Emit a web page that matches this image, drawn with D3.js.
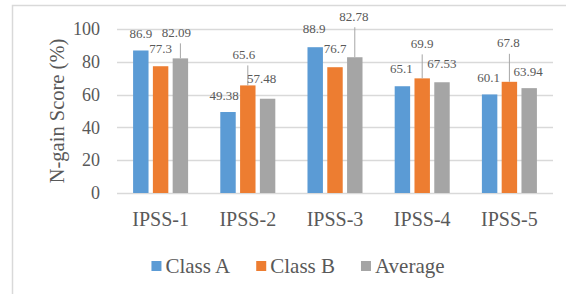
<!DOCTYPE html>
<html>
<head>
<meta charset="utf-8">
<script src="https://cdn.jsdelivr.net/npm/d3@7"></script>
<style>
  body { margin: 0; background: #fff; }
  svg { display: block; font-family: "Liberation Serif", serif; }
</style>
</head>
<body>
<div id="chart"></div>
<script>
const categories = ["IPSS-1", "IPSS-2", "IPSS-3", "IPSS-4", "IPSS-5"];
const seriesNames = ["Class A", "Class B", "Average"];
const classA = [86.9, 49.38, 88.9, 65.1, 60.1];
const classB = [77.3, 65.6, 76.7, 69.9, 67.8];
const average = [82.09, 57.48, 82.78, 67.53, 63.94];
const yTicks = [0, 20, 40, 60, 80, 100];

// hand placed data labels: [dx, dy from bar top, leader line?]
const labelNudgeA = [[0, -17], [-4, -17], [-1, -19], [-1, -18], [-1, -17]];
const labelNudgeB = [[0, -18], [-4, -31, 1], [0, -19], [0, -35, 1], [-1, -39, 1]];
const labelNudgeAvg = [[-4, -26, 1], [-6, -20], [-1, -41, 1], [0, -19], [-1, -17]];

const colors = ["#5b9bd5", "#ed7d31", "#a5a5a5"];
const seriesValues = [classA, classB, average];
const nudges = [labelNudgeA, labelNudgeB, labelNudgeAvg];

const W = 566, H = 294;
const plot = { left: 117, right: 553, top: 29, bottom: 193 };

const svg = d3.select("#chart").append("svg")
    .attr("width", W)
    .attr("height", H);

// outer frame
svg.append("rect")
    .attr("x", 12.5).attr("y", 5.5)
    .attr("width", W + 20).attr("height", H + 20)
    .attr("fill", "none")
    .attr("stroke", "#d9d9d9")
    .attr("stroke-width", 1.5);

const x0 = d3.scaleBand()
    .domain(categories)
    .range([plot.left, plot.right])
    .paddingInner(0.369)
    .paddingOuter(0.1845);

const x1 = d3.scaleBand()
    .domain(seriesNames)
    .range([0, x0.bandwidth()])
    .paddingInner(0.22);

const y = d3.scaleLinear()
    .domain([0, 100])
    .range([plot.bottom, plot.top]);

// gridlines
svg.append("g")
    .selectAll("line")
    .data(yTicks)
    .enter()
    .append("line")
    .attr("x1", plot.left)
    .attr("x2", plot.right)
    .attr("y1", d => Math.round(y(d)) + 0.5)
    .attr("y2", d => Math.round(y(d)) + 0.5)
    .attr("stroke", "#d9d9d9")
    .attr("stroke-width", 1.3);

// y tick labels
const yAxis = svg.append("g")
    .attr("transform", "translate(" + plot.left + ",0)")
    .call(d3.axisLeft(y).tickValues(yTicks).tickSize(0).tickPadding(17));
yAxis.select(".domain").remove();
yAxis.selectAll("text")
    .attr("fill", "#595959")
    .style("font-family", "Liberation Serif")
    .style("font-size", "18px");

// x labels
const xAxis = svg.append("g")
    .attr("transform", "translate(0," + plot.bottom + ")")
    .call(d3.axisBottom(x0).tickSize(0).tickPadding(19));
xAxis.select(".domain").remove();
xAxis.selectAll("text")
    .attr("fill", "#595959")
    .style("font-family", "Liberation Serif")
    .style("font-size", "20px");

// bars
const rows = [];
seriesNames.forEach((s, si) => {
    categories.forEach((c, ci) => {
        rows.push({ series: s, si: si, cat: c, value: seriesValues[si][ci], nudge: nudges[si][ci] });
    });
});

svg.append("g")
    .selectAll("rect")
    .data(rows)
    .enter()
    .append("rect")
    .attr("x", d => x0(d.cat) + x1(d.series))
    .attr("width", x1.bandwidth())
    .attr("y", d => y(d.value))
    .attr("height", d => y(0) - y(d.value))
    .attr("fill", d => colors[d.si]);

// leader lines
svg.append("g")
    .selectAll("line")
    .data(rows.filter(d => d.nudge[2]))
    .enter()
    .append("line")
    .attr("x1", d => x0(d.cat) + x1(d.series) + x1.bandwidth() / 2)
    .attr("x2", d => x0(d.cat) + x1(d.series) + x1.bandwidth() / 2)
    .attr("y1", d => y(d.value) + d.nudge[1] + 11)
    .attr("y2", d => y(d.value))
    .attr("stroke", "#a6a6a6")
    .attr("stroke-width", 1);

// data labels
svg.append("g")
    .selectAll("text")
    .data(rows)
    .enter()
    .append("text")
    .attr("x", d => x0(d.cat) + x1(d.series) + x1.bandwidth() / 2 + d.nudge[0])
    .attr("y", d => y(d.value) + d.nudge[1])
    .attr("dy", "0.35em")
    .attr("text-anchor", "middle")
    .attr("fill", "#595959")
    .style("font-size", "13px")
    .text(d => d.value);

// y title
svg.append("text")
    .attr("transform", "rotate(-90)")
    .attr("x", -(plot.top + plot.bottom) / 2)
    .attr("y", 57)
    .attr("dy", "0.35em")
    .attr("text-anchor", "middle")
    .attr("fill", "#595959")
    .style("font-size", "20.5px")
    .text("N-gain Score (%)");

// legend
const legend = svg.append("g");
const legendGap = 26;
let lx = 0;
seriesNames.forEach((s, i) => {
    const item = legend.append("g").attr("transform", "translate(" + lx + ",0)");
    item.append("rect")
        .attr("x", 0).attr("y", -5)
        .attr("width", 10).attr("height", 10)
        .attr("fill", colors[i]);
    const t = item.append("text")
        .attr("x", 14)
        .attr("y", 0)
        .attr("dy", "0.35em")
        .attr("fill", "#595959")
        .style("font-size", "21px")
        .text(s);
    lx += 14 + t.node().getComputedTextLength() + legendGap;
});
const legendWidth = lx - legendGap;
legend.attr("transform", "translate(" + (298 - legendWidth / 2) + ",266)");
</script>
</body>
</html>
